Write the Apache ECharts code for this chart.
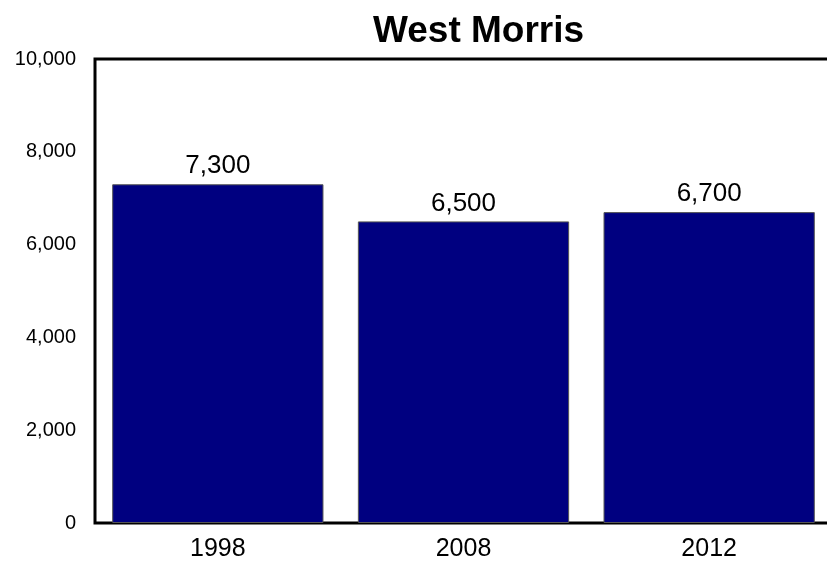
<!DOCTYPE html>
<html lang="en">
<head>
    <meta charset="UTF-8">
    <script src="https://cdn.jsdelivr.net/npm/echarts@6/dist/echarts.min.js"></script>
    <title>West Morris</title>
    <style>
        body { margin: 0; background: #fff; overflow: hidden; }
        /* a bit wider than the window so the grid's right border falls off-screen */
        #main { width: 836px; height: 566px; }
    </style>
</head>
<body>
<div id="main"></div>
<script>
    // data
    var years = ['1998', '2008', '2012'];
    var values = [7300, 6500, 6700];

    var chart = echarts.init(document.getElementById('main'));

    var fmt = function (v) {
        return v.toLocaleString('en-US');
    };

    var option = {
        animation: false,
        backgroundColor: '#fff',
        title: {
            text: 'West Morris',
            left: 368,
            top: 8,
            textStyle: {
                fontFamily: 'Liberation Sans, Arial, sans-serif',
                fontSize: 37,
                fontWeight: 'bold',
                color: '#000'
            }
        },
        grid: {
            show: true,
            left: 95,
            right: 4,
            top: 59,
            bottom: 43,
            borderColor: '#000',
            borderWidth: 3
        },
        xAxis: {
            type: 'category',
            data: years,
            axisLine: { show: false },
            axisTick: { show: false },
            axisLabel: {
                margin: 14,
                fontFamily: 'Liberation Sans, Arial, sans-serif',
                fontSize: 25,
                color: '#000'
            }
        },
        yAxis: {
            type: 'value',
            min: 0,
            max: 10000,
            interval: 2000,
            splitLine: { show: false },
            axisLine: { show: false },
            axisTick: { show: false },
            axisLabel: {
                margin: 19,
                fontFamily: 'Liberation Sans, Arial, sans-serif',
                fontSize: 20,
                color: '#000',
                formatter: fmt
            }
        },
        series: [{
            type: 'bar',
            data: values,
            barCategoryGap: '14%',
            itemStyle: {
                color: '#000080',
                borderColor: '#555',
                borderWidth: 1
            },
            label: {
                show: true,
                position: 'top',
                distance: 5,
                fontFamily: 'Liberation Sans, Arial, sans-serif',
                fontSize: 26,
                color: '#000',
                formatter: function (p) { return fmt(p.value); }
            }
        }]
    };
    chart.setOption(option);
</script>
</body>
</html>
